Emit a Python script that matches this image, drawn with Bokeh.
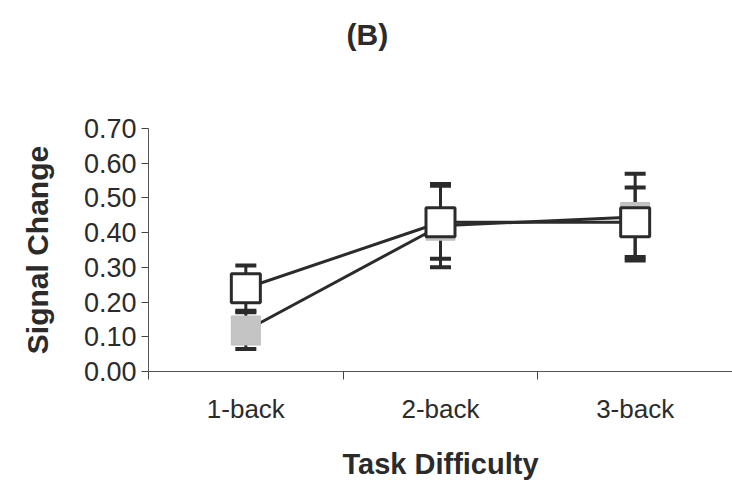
from bokeh.plotting import figure
from bokeh.models import (Range1d, FixedTicker, NumeralTickFormatter, ColumnDataSource,
                          Whisker, TeeHead, Title)
from bokeh.embed import file_html
from bokeh.resources import INLINE

title_text = "(B)"
categories = ["1-back", "2-back", "3-back"]
mean_a = [0.24, 0.43, 0.43]      # white squares
err_a = [0.065, 0.105, 0.10]
mean_b = [0.118, 0.42, 0.445]    # gray squares
err_b = [0.053, 0.12, 0.125]
y_ticks = [0.0, 0.1, 0.2, 0.3, 0.4, 0.5, 0.6, 0.7]

xs = [i + 0.5 for i in range(len(categories))]
bounds = [float(i) for i in range(len(categories) + 1)]

FONT = "Liberation Sans"
DARK = "#2b2b2b"

p = figure(width=732, height=490, output_backend="svg", toolbar_location=None, title=None,
           x_range=Range1d(0, len(categories)), y_range=Range1d(0, 0.70),
           min_border_left=148, min_border_right=0, min_border_top=128, min_border_bottom=119)
p.outline_line_color = None
p.xgrid.visible = False
p.ygrid.visible = False
p.background_fill_color = "white"
p.border_fill_color = "white"

# spacer between frame and title, then the title itself
p.add_layout(Title(text=" ", text_font_size="59px", standoff=10), "above")
p.add_layout(Title(text=title_text, align="left", offset=198, standoff=0,
                   text_font=FONT, text_font_size="30px", text_font_style="bold",
                   text_color=DARK), "above")

# axes
xa = p.xaxis[0]
xa.ticker = FixedTicker(ticks=xs, minor_ticks=bounds)
xa.major_label_overrides = {x: c for x, c in zip(xs, categories)}
xa.major_tick_line_color = None
xa.major_tick_out = 8
xa.major_tick_in = 0
xa.minor_tick_out = 8
xa.minor_tick_in = 0
xa.minor_tick_line_color = "#444444"
xa.axis_line_color = "#555555"
xa.major_label_text_font = FONT
xa.major_label_text_font_size = "26px"
xa.major_label_text_color = DARK
xa.major_label_standoff = 14
xa.axis_label = "Task Difficulty"
xa.axis_label_text_font = FONT
xa.axis_label_text_font_size = "29px"
xa.axis_label_text_font_style = "bold"
xa.axis_label_text_color = DARK
xa.axis_label_standoff = 21

ya = p.yaxis[0]
ya.ticker = FixedTicker(ticks=y_ticks)
ya.formatter = NumeralTickFormatter(format="0.00")
ya.major_tick_out = 7
ya.major_tick_in = 0
ya.minor_tick_line_color = None
ya.major_tick_line_color = "#444444"
ya.axis_line_color = "#555555"
ya.major_label_text_font = FONT
ya.major_label_text_font_size = "27px"
ya.major_label_text_color = DARK
ya.major_label_standoff = 5
ya.axis_label = "Signal Change"
ya.axis_label_text_font = FONT
ya.axis_label_text_font_size = "30px"
ya.axis_label_text_font_style = "bold"
ya.axis_label_text_color = DARK
ya.axis_label_standoff = 27

src_a = ColumnDataSource(dict(x=xs, y=mean_a,
                              lo=[m - e for m, e in zip(mean_a, err_a)],
                              hi=[m + e for m, e in zip(mean_a, err_a)]))
src_b = ColumnDataSource(dict(x=xs, y=mean_b,
                              lo=[m - e for m, e in zip(mean_b, err_b)],
                              hi=[m + e for m, e in zip(mean_b, err_b)]))

for src in (src_b, src_a):
    w = Whisker(source=src, base="x", lower="lo", upper="hi", dimension="height",
                line_color=DARK, line_width=3,
                upper_head=TeeHead(size=21, line_color=DARK, line_width=4),
                lower_head=TeeHead(size=21, line_color=DARK, line_width=4),
                level="underlay")
    p.add_layout(w)

p.line("x", "y", source=src_a, line_color=DARK, line_width=3)
p.line("x", "y", source=src_b, line_color=DARK, line_width=3)

p.scatter("x", "y", source=src_b, marker="square", size=29,
          fill_color="#c4c4c4", line_color="#bdbdbd", line_width=1)
p.scatter("x", "y", source=src_a, marker="square", size=29,
          fill_color="white", line_color=DARK, line_width=3)

open("out.html", "w").write(file_html(p, INLINE))
